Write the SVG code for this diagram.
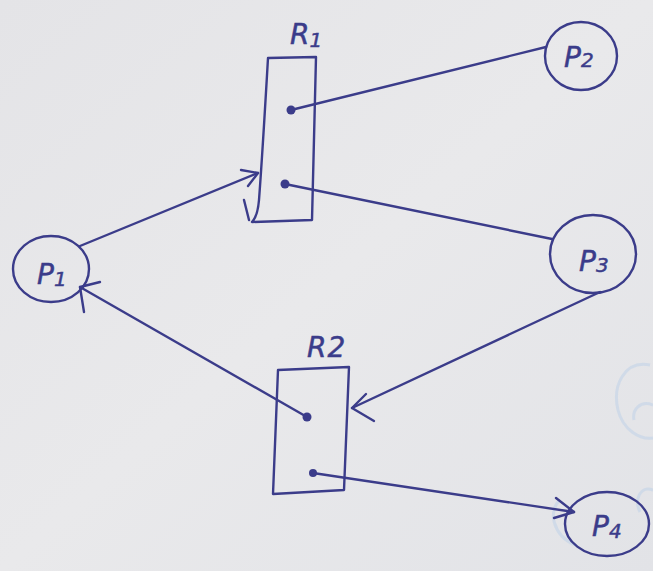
<svg xmlns="http://www.w3.org/2000/svg" width="653" height="571" viewBox="0 0 653 571">
  <defs>
    <style>
      .ink { fill: none; stroke: #3b3c8a; stroke-width: 2.4; stroke-linecap: round; stroke-linejoin: round; }
      .dot { fill: #3b3c8a; }
      .lbl { font-family: "DejaVu Sans", "Liberation Sans", sans-serif; font-style: italic; fill: #3b3c8a; stroke: #3b3c8a; stroke-width: 0.5; font-size: 28px; }
      .sub { font-size: 20px; }
      .ghost { fill: none; stroke: #bfd1e8; stroke-width: 3; opacity: 0.55; }
    </style>
    <linearGradient id="paper" x1="0" y1="0" x2="1" y2="1">
      <stop offset="0" stop-color="#e4e4e7"/>
      <stop offset="0.5" stop-color="#e9e9eb"/>
      <stop offset="1" stop-color="#e2e3e7"/>
    </linearGradient>
  </defs>

  <rect width="653" height="571" fill="url(#paper)"/>

  <!-- faint marks showing through the paper -->
  <g id="show-through">
    <path class="ghost" d="M650 365 C625 360 612 385 618 410 C623 430 640 440 653 438"/>
    <path class="ghost" d="M653 405 C640 400 632 410 634 420"/>
    <path class="ghost" d="M653 490 C640 485 634 500 640 512"/>
    <path class="ghost" d="M560 500 C548 510 552 535 575 545"/>
  </g>

  <g id="R1">
    <path class="ink" d="M268 58 L316 57 L312 220 L252 222 M268 58 C265 110 262 160 259 200 C258 212 256 218 252 222 M244 200 L249 220"/>
    <circle class="dot" cx="291" cy="110" r="4.5"/>
    <circle class="dot" cx="285" cy="184" r="4.5"/>
    <text class="lbl" x="290" y="44">R<tspan class="sub" dy="3">1</tspan></text>
  </g>

  <g id="R2">
    <path class="ink" d="M278 370 L349 367 L344 490 L273 494 Z"/>
    <circle class="dot" cx="307" cy="417" r="4.5"/>
    <circle class="dot" cx="313" cy="473" r="4"/>
    <text class="lbl" x="307" y="357">R<tspan dx="1">2</tspan></text>
  </g>

  <g id="P1">
    <ellipse class="ink" cx="51" cy="269" rx="38" ry="33"/>
    <text class="lbl" x="37" y="284">P<tspan class="sub" dy="2">1</tspan></text>
  </g>

  <g id="P2">
    <ellipse class="ink" cx="581" cy="56" rx="36" ry="34"/>
    <text class="lbl" x="564" y="67">P<tspan class="sub">2</tspan></text>
  </g>

  <g id="P3">
    <ellipse class="ink" cx="593" cy="254" rx="43" ry="39"/>
    <text class="lbl" x="579" y="271">P<tspan class="sub" dy="1">3</tspan></text>
  </g>

  <g id="P4">
    <ellipse class="ink" cx="607" cy="524" rx="42" ry="32"/>
    <text class="lbl" x="592" y="536">P<tspan class="sub" dy="2">4</tspan></text>
  </g>

  <g id="connectors">
    <!-- P1 requests R1 -->
    <path class="ink" d="M80 246 L258 173"/>
    <path class="ink" d="M241 170 L258 173 L248 186"/>
    <!-- R1 held by P2 -->
    <path class="ink" d="M291 110 L546 47"/>
    <!-- R1 held by P3 -->
    <path class="ink" d="M285 184 L552 239"/>
    <!-- R2 assigned to P1 -->
    <path class="ink" d="M307 417 L80 287"/>
    <path class="ink" d="M100 282 L80 287 L84 312"/>
    <!-- P3 requests R2 -->
    <path class="ink" d="M600 292 L352 408"/>
    <path class="ink" d="M366 394 L352 408 L374 421"/>
    <!-- R2 assigned to P4 -->
    <path class="ink" d="M313 473 L574 512"/>
    <path class="ink" d="M556 498 L574 512 L554 518"/>
  </g>
</svg>
